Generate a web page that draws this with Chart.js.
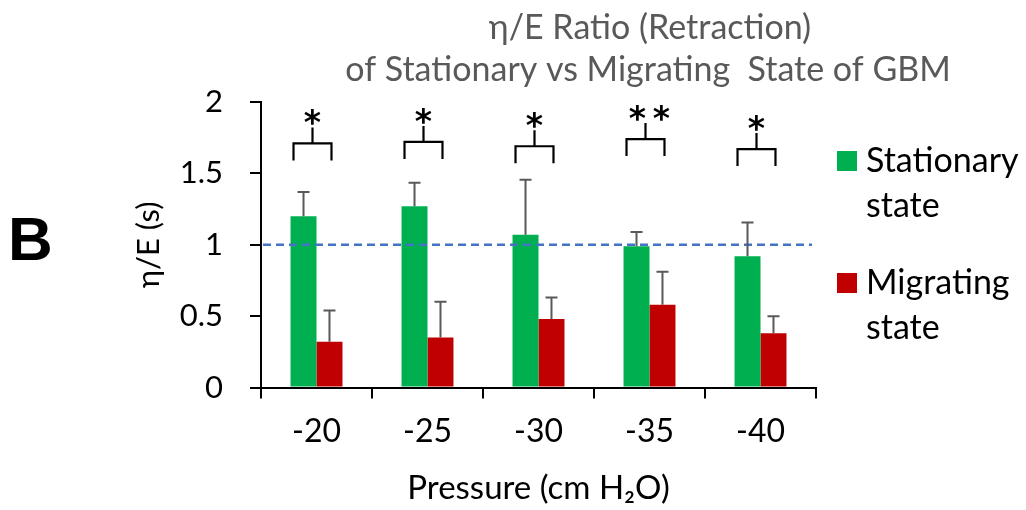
<!DOCTYPE html>
<html><head><meta charset="utf-8">
<script src="https://cdn.jsdelivr.net/npm/chart.js@4.4.1/dist/chart.umd.min.js"></script>
<style>html,body{margin:0;padding:0;background:#fff;} #wrap{width:1026px;height:510px;position:relative;}</style>
</head><body><div id="wrap"><canvas id="c" width="1026" height="510"></canvas></div>
<script>
// ---- data ----
const categories = ['-20', '-25', '-30', '-35', '-40'];
const stationary = [1.20, 1.27, 1.07, 0.99, 0.92];
const stationaryErr = [0.17, 0.165, 0.385, 0.10, 0.235];
const migrating = [0.32, 0.35, 0.48, 0.58, 0.38];
const migratingErr = [0.22, 0.25, 0.15, 0.23, 0.12];
const significance = ['*', '*', '*', '**', '*'];
const bracketLevel = [1.71, 1.72, 1.69, 1.74, 1.67];
const yTicks = [0, 0.5, 1, 1.5, 2];
const yTickLabels = ['0', '0.5', '1', '1.5', '2'];
const referenceLevel = 1;
const titleLines = ['η/E Ratio (Retraction)', 'of Stationary vs Migrating  State of GBM'];
const seriesNames = ['Stationary state', 'Migrating state'];
const xTitle = 'Pressure (cm H₂O)';
const yTitle = 'η/E (s)';
const panelLetter = 'B';

const FONT = 'Lato, "Open Sans", sans-serif';
const GREEN = '#00B050', RED = '#C00000';

Chart.defaults.color = '#000';
Chart.defaults.font.family = FONT;

const overlay = {
  id: 'overlay',
  afterDatasetsDraw(chart) {
    const {ctx, chartArea, scales: {x, y}} = chart;
    // reference dashed line
    ctx.save();
    ctx.strokeStyle = '#4472C4'; ctx.lineWidth = 2.5; ctx.setLineDash([8, 5]);
    const yr = y.getPixelForValue(referenceLevel);
    ctx.beginPath(); ctx.moveTo(chartArea.left + 2, yr); ctx.lineTo(chartArea.right - 4, yr); ctx.stroke();
    ctx.restore();
    // error bars
    const errs = [stationaryErr, migratingErr];
    chart.data.datasets.forEach((ds, di) => {
      const meta = chart.getDatasetMeta(di);
      meta.data.forEach((bar, i) => {
        const base = y.getPixelForValue(ds.data[i]);
        const top = y.getPixelForValue(ds.data[i] + errs[di][i]);
        ctx.save(); ctx.strokeStyle = '#595959'; ctx.lineWidth = 2;
        ctx.beginPath();
        ctx.moveTo(bar.x, base); ctx.lineTo(bar.x, top);
        ctx.moveTo(bar.x - 6, top); ctx.lineTo(bar.x + 6, top);
        ctx.stroke(); ctx.restore();
      });
    });
    // significance brackets
    const m0 = chart.getDatasetMeta(0), m1 = chart.getDatasetMeta(1);
    significance.forEach((s, i) => {
      const l = m0.data[i].x - 10, r = m1.data[i].x + 2;
      const c = (l + r) / 2;
      const hy = y.getPixelForValue(bracketLevel[i]);
      ctx.save(); ctx.strokeStyle = '#000'; ctx.lineWidth = 2.2;
      ctx.beginPath();
      ctx.moveTo(l, hy + 17); ctx.lineTo(l, hy); ctx.lineTo(r, hy); ctx.lineTo(r, hy + 17);
      ctx.moveTo(c, hy); ctx.lineTo(c, hy - 16);
      ctx.stroke();
      ctx.fillStyle = '#000'; ctx.font = 'bold 33px "DejaVu Sans", sans-serif'; ctx.textAlign = 'center'; ctx.textBaseline = 'alphabetic';
      const n = s.length, gap = 24;
      for (let k = 0; k < n; k++) {
        const cx = c + 4 * (n - 1) + (k - (n - 1) / 2) * gap;
        ctx.fillText('*', cx, hy - 9);
      }
      ctx.restore();
    });
  },
  afterDraw(chart) {
    const {ctx} = chart;
    ctx.save();
    // title
    ctx.fillStyle = '#595959'; ctx.font = '34px ' + FONT; ctx.textAlign = 'center'; ctx.textBaseline = 'alphabetic';
    ctx.fillText(titleLines[0], 650, 39);
    ctx.fillText(titleLines[1], 648, 81);
    // panel letter
    ctx.fillStyle = '#000'; ctx.font = 'bold 62px "Liberation Sans", Arial, sans-serif'; ctx.textAlign = 'left';
    ctx.fillText(panelLetter, 8, 260);
    // legend
    const colors = [GREEN, RED];
    const tops = [151, 273];
    ctx.font = '34px ' + FONT;
    seriesNames.forEach((name, i) => {
      ctx.fillStyle = colors[i];
      ctx.fillRect(837, tops[i], 20, 20);
      ctx.fillStyle = '#000';
      const words = name.split(' ');
      words.forEach((w, k) => ctx.fillText(w, 866, tops[i] + 21 + k * 45));
    });
    ctx.restore();
  }
};

new Chart(document.getElementById('c'), {
  type: 'bar',
  data: {
    labels: categories,
    datasets: [
      {label: seriesNames[0], data: stationary, backgroundColor: GREEN, categoryPercentage: 0.468, barPercentage: 1.0},
      {label: seriesNames[1], data: migrating, backgroundColor: RED, categoryPercentage: 0.468, barPercentage: 1.0}
    ]
  },
  options: {
    responsive: false,
    animation: false,
    layout: {padding: {left: 120, right: 210, top: 102, bottom: 0}},
    plugins: {legend: {display: false}, title: {display: false}, tooltip: {enabled: false}},
    scales: {
      x: {
        grid: {offset: true, drawOnChartArea: false, drawTicks: true, tickLength: 11, color: '#000', lineWidth: 2},
        border: {display: true, color: '#000', width: 2},
        ticks: {font: {size: 32}, padding: 14, color: '#000'},
        title: {display: true, text: xTitle, font: {size: 33}, color: '#000', padding: {top: 0, bottom: 2}},
        afterFit(s) { s.height = 122.5; }
      },
      y: {
        min: 0, max: 2,
        afterBuildTicks(s) { s.ticks = yTicks.map(v => ({value: v})); },
        grid: {drawOnChartArea: false, drawTicks: true, tickLength: 11, color: '#000', lineWidth: 2},
        border: {display: true, color: '#000', width: 2},
        ticks: {font: {size: 31}, padding: 27, color: '#000',
                callback: (v) => yTickLabels[yTicks.indexOf(v)] ?? String(v)},
        title: {display: true, text: yTitle, font: {size: 31}, color: '#000', padding: {top: 10, bottom: 0}},
        afterFit(s) { s.width = 141; }
      }
    }
  },
  plugins: [overlay]
});
</script></body></html>
